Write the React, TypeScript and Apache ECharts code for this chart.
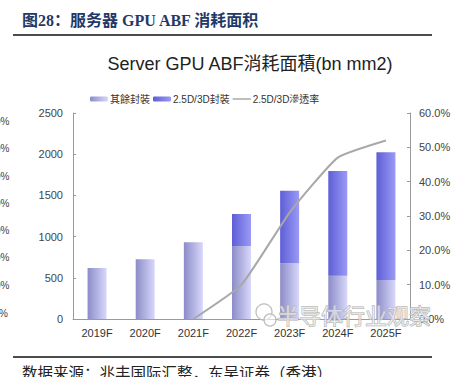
import React, { useEffect, useRef } from "react";
import * as echarts from "echarts";

const categories = ["2019F", "2020F", "2021F", "2022F", "2023F", "2024F", "2025F"];
const otherPackaging = [620, 725, 930, 886, 676, 526, 473];
const advancedPackaging = [0, 0, 0, 388, 881, 1270, 1550];
const penetrationRate = [null, null, 0, 10, 31, 47, 52];
const leftTicks = { min: 0, max: 2500, interval: 500 };
const rightTicks = { min: 0, max: 60, interval: 10 };
const cutLabels = ["70%", "60%", "50%", "40%", "30%", "20%", "10%", "0%"];

export default function App() {
  const ref = useRef<HTMLDivElement>(null);
  useEffect(() => {
    if (!ref.current) return;
    const chart = echarts.init(ref.current, null, { renderer: "svg" });
    const sans = "'Liberation Sans', Arial, 'Noto Sans CJK TC', sans-serif";
    const cutYs = [121, 148, 176, 203, 230, 257, 285, 313];
    chart.setOption({
      animation: false,
      backgroundColor: "#ffffff",
      graphic: [
        {
          type: "text",
          left: 22,
          top: 12,
          style: {
            text: "图28：服务器 GPU ABF 消耗面积",
            fill: "#1f3a68",
            font: "bold 16px 'Liberation Serif', 'Noto Sans CJK SC', serif",
          },
        },
        { type: "line", shape: { x1: 13, y1: 35, x2: 432, y2: 35 }, style: { stroke: "#111", lineWidth: 1.5 } },
        { type: "line", shape: { x1: 13, y1: 357, x2: 432, y2: 357 }, style: { stroke: "#111", lineWidth: 1.5 } },
        {
          type: "text",
          left: 22,
          top: 364,
          style: {
            text: "数据来源：兆丰国际汇整，东吴证券（香港）",
            fill: "#222",
            font: "15.5px 'Noto Sans CJK SC', sans-serif",
          },
        },
        ...cutLabels.map((t, i) => ({
          type: "text",
          x: i === cutLabels.length - 1 ? 8 : 9.5,
          y: cutYs[i],
          style: {
            text: t,
            fill: "#444",
            font: "10px " + sans,
            textAlign: "right",
            textVerticalAlign: "middle",
          },
        })),
        {
          type: "circle",
          shape: { cx: 264, cy: 312, r: 8 },
          style: { fill: "rgba(255,255,255,0.5)", stroke: "#bbb", lineWidth: 1.2 },
          z: 100,
        },
        {
          type: "circle",
          shape: { cx: 270, cy: 320, r: 6 },
          style: { fill: "rgba(255,255,255,0.6)", stroke: "#bbb", lineWidth: 1.2 },
          z: 100,
        },
        {
          type: "text",
          x: 277,
          y: 314,
          z: 100,
          style: {
            text: "半导体行业观察",
            fill: "rgba(255,255,255,0.55)",
            stroke: "#b0b0b0",
            lineWidth: 1,
            font: "22px 'Noto Sans CJK SC', sans-serif",
            textVerticalAlign: "middle",
          },
        },
      ],
      title: {
        text: "Server GPU ABF消耗面積(bn mm2)",
        left: 245,
        textAlign: "center",
        top: 50,
        textStyle: { fontSize: 18, fontWeight: "normal", color: "#222", fontFamily: sans },
      },
      legend: {
        left: 85,
        top: 89,
        itemWidth: 18,
        itemHeight: 5,
        itemGap: 3,
        textStyle: { fontSize: 10, color: "#333", fontFamily: sans, padding: [0, 0, 0, -3] },
        data: [
          { name: "其餘封裝" },
          { name: "2.5D/3D封裝" },
          { name: "2.5D/3D滲透率", icon: "path://M0,0H36V3H0Z", symbolKeepAspect: true, itemStyle: { color: "#a8a8a8" } },
        ],
      },
      grid: { left: 73, right: 46, top: 113, bottom: 58, containLabel: false },
      xAxis: {
        type: "category",
        data: categories,
        axisLine: { lineStyle: { color: "#9a9a9a" } },
        axisTick: { show: false },
        axisLabel: { fontSize: 11, color: "#333", fontFamily: sans, margin: 8 },
      },
      yAxis: [
        {
          type: "value",
          ...leftTicks,
          splitLine: { show: false },
          axisLine: { show: true, lineStyle: { color: "#9a9a9a" } },
          axisTick: { show: true, inside: true, length: 3, lineStyle: { color: "#9a9a9a" } },
          axisLabel: { fontSize: 11, color: "#444", fontFamily: sans, margin: 10, formatter: (v: number) => String(v) },
        },
        {
          type: "value",
          ...rightTicks,
          position: "right",
          splitLine: { show: false },
          axisLine: { show: true, lineStyle: { color: "#9a9a9a" } },
          axisTick: { show: true, inside: true, length: 3, lineStyle: { color: "#9a9a9a" } },
          axisLabel: {
            fontSize: 11,
            color: "#444",
            fontFamily: sans,
            margin: 9,
            formatter: (v: number) => v.toFixed(1) + "%",
          },
        },
      ],
      series: [
        {
          name: "其餘封裝",
          type: "bar",
          stack: "total",
          barWidth: 19,
          data: otherPackaging,
          itemStyle: {
            color: {
              type: "linear", x: 0, y: 0, x2: 1, y2: 0,
              colorStops: [
                { offset: 0, color: "#8c8cc8" },
                { offset: 1, color: "#d8d8fb" },
              ],
            },
          },
        },
        {
          name: "2.5D/3D封裝",
          type: "bar",
          stack: "total",
          barWidth: 19,
          data: advancedPackaging,
          itemStyle: {
            color: {
              type: "linear", x: 0, y: 0, x2: 1, y2: 0,
              colorStops: [
                { offset: 0, color: "#5e5ed6" },
                { offset: 1, color: "#9a9af6" },
              ],
            },
          },
        },
        {
          name: "2.5D/3D滲透率",
          type: "line",
          yAxisIndex: 1,
          data: penetrationRate,
          symbol: "none",
          smooth: 0.15,
          lineStyle: { color: "#a8a8a8", width: 2 },
          itemStyle: { color: "#a8a8a8" },
          z: 5,
        },
      ],
    });
    return () => chart.dispose();
  }, []);
  return <div ref={ref} style={{ position: "fixed", left: 0, top: 0, width: 456, height: 377 }} />;
}
